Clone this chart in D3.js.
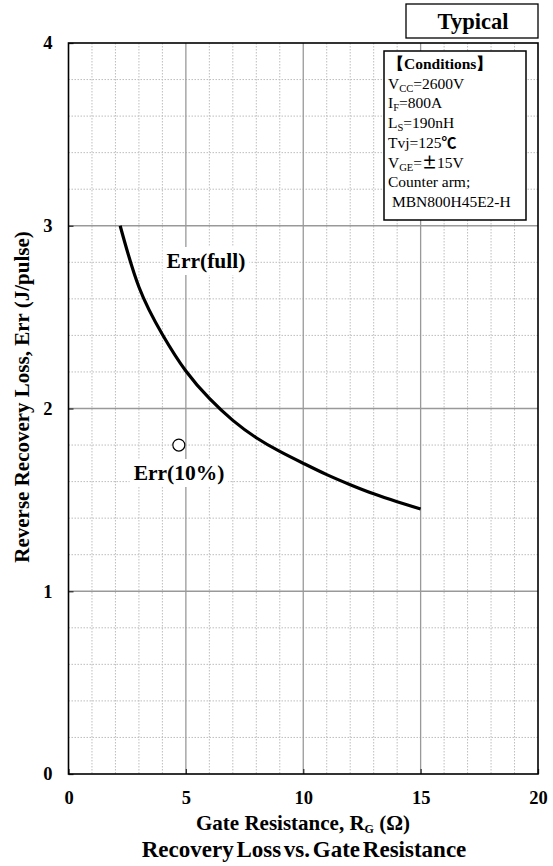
<!DOCTYPE html>
<html><head><meta charset="utf-8">
<script src="https://cdn.jsdelivr.net/npm/d3@7"></script>
<style>
html,body{margin:0;padding:0;background:#fff;}
svg{display:block;}
text{font-family:"Liberation Serif","Times New Roman",serif;}
</style></head>
<body>
<svg id="c" width="553" height="866"></svg>
<script>
// Data
const rgValues = [2.2, 3, 4, 5, 6, 7, 8, 9, 10, 11, 12, 13, 14, 15];
const errFull  = [3.00, 2.665, 2.405, 2.205, 2.055, 1.935, 1.840, 1.765, 1.700, 1.638, 1.583, 1.533, 1.490, 1.450];
const err10Point = [4.7, 1.80];
const xTicks = [0, 5, 10, 15, 20];
const yTicks = [0, 1, 2, 3, 4];
const conditionLines = [
  [{t:"【Conditions】", b:true}],
  [{t:"V"},{t:"CC",sub:true},{t:"=2600V"}],
  [{t:"I"},{t:"F",sub:true},{t:"=800A"}],
  [{t:"L"},{t:"S",sub:true},{t:"=190nH"}],
  [{t:"Tvj=125"},{t:"℃",cjk:true}],
  [{t:"V"},{t:"GE",sub:true},{t:"="},{t:"±",cjk:true},{t:"15V"}],
  [{t:"Counter arm;"}],
  [{t:"\u00a0MBN800H45E2-H"}]
];

const svg = d3.select("#c");
const L = 68.5, R = 538, T = 43, B = 774;
const x = d3.scaleLinear().domain([0, 20]).range([L, R]);
const y = d3.scaleLinear().domain([0, 4]).range([B, T]);

const g = svg.append("g");
// minor grid
const minorX = d3.range(1, 20).filter(v => v % 5 !== 0);
const minorY = d3.range(1, 20).map(v => v * 0.2).filter(v => Math.abs(v - Math.round(v)) > 1e-6);
g.selectAll(".mx").data(minorX).enter().append("line")
  .attr("x1", d => x(d)).attr("x2", d => x(d)).attr("y1", T).attr("y2", B)
  .attr("stroke", "#bdbdbd").attr("stroke-width", 1).attr("stroke-dasharray", "1.5,1.5");
g.selectAll(".my").data(minorY).enter().append("line")
  .attr("y1", d => y(d)).attr("y2", d => y(d)).attr("x1", L).attr("x2", R)
  .attr("stroke", "#bdbdbd").attr("stroke-width", 1).attr("stroke-dasharray", "1.5,1.5");
// major grid
g.selectAll(".Mx").data(xTicks.slice(1, -1)).enter().append("line")
  .attr("x1", d => x(d)).attr("x2", d => x(d)).attr("y1", T).attr("y2", B)
  .attr("stroke", "#999").attr("stroke-width", 1.3);
g.selectAll(".My").data(yTicks.slice(1, -1)).enter().append("line")
  .attr("y1", d => y(d)).attr("y2", d => y(d)).attr("x1", L).attr("x2", R)
  .attr("stroke", "#999").attr("stroke-width", 1.3);

// axes with tick labels
const xAxis = d3.axisBottom(x).tickValues(xTicks).tickFormat(d3.format("d")).tickSize(5).tickSizeOuter(0);
const xa = svg.append("g").attr("transform", `translate(0,${B})`).call(xAxis);
xa.select(".domain").remove();
xa.selectAll(".tick line").attr("y2", -5).attr("stroke", "#333").attr("stroke-width", 1.3);
xa.selectAll(".tick text").attr("y", 30).attr("dy", "0")
  .style("font-family", "Liberation Serif").style("font-weight", "bold").style("font-size", "18.5px").attr("fill", "#000");

const yAxis = d3.axisLeft(y).tickValues(yTicks).tickFormat(d3.format("d")).tickSize(5).tickSizeOuter(0);
const ya = svg.append("g").attr("transform", `translate(${L},0)`).call(yAxis);
ya.select(".domain").remove();
ya.selectAll(".tick line").attr("x2", 5).attr("stroke", "#333").attr("stroke-width", 1.3);
ya.selectAll(".tick text").attr("x", -16)
  .style("font-family", "Liberation Serif").style("font-weight", "bold").style("font-size", "18.5px").attr("fill", "#000");

// frame
svg.append("rect").attr("x", L).attr("y", T).attr("width", R - L).attr("height", B - T)
  .attr("fill", "none").attr("stroke", "#000").attr("stroke-width", 1.6);

// curve
const line = d3.line().x((d, i) => x(rgValues[i])).y(d => y(d)).curve(d3.curveNatural);
svg.append("path").attr("d", line(errFull)).attr("fill", "none").attr("stroke", "#000").attr("stroke-width", 3.2);

// labels with white background
function bgLabel(tx, cx, by, size) {
  const t = svg.append("text").attr("x", cx).attr("y", by).attr("text-anchor", "middle")
    .style("font-weight", "bold").style("font-size", size + "px").text(tx);
  const bb = t.node().getBBox();
  svg.insert("rect", () => t.node()).attr("x", bb.x - 4).attr("y", bb.y - 2)
    .attr("width", bb.width + 8).attr("height", bb.height + 4).attr("fill", "#fff");
}
bgLabel("Err(full)", 206, 268, 21.5);
bgLabel("Err(10%)", 179, 480, 21.5);

// marker
svg.append("circle").attr("cx", x(err10Point[0])).attr("cy", y(err10Point[1])).attr("r", 6)
  .attr("fill", "#fff").attr("stroke", "#000").attr("stroke-width", 1.2);

// Typical box
svg.append("rect").attr("x", 406).attr("y", 4).attr("width", 132).attr("height", 34)
  .attr("fill", "#fff").attr("stroke", "#000").attr("stroke-width", 1.3);
svg.append("text").attr("x", 473).attr("y", 29).attr("text-anchor", "middle")
  .style("font-weight", "bold").style("font-size", "22.5px").text("Typical");

// Conditions box
svg.append("rect").attr("x", 384).attr("y", 51).attr("width", 142).attr("height", 169)
  .attr("fill", "#fff").attr("stroke", "#000").attr("stroke-width", 1.5);
const ct = svg.append("g");
conditionLines.forEach((parts, i) => {
  const t = ct.append("text").attr("x", 388).attr("y", 69 + i * 19.7).style("font-size", "15.5px");
  parts.forEach((p, j) => {
    const s = t.append("tspan").text(p.t);
    if (p.b) s.style("font-weight", "bold");
    if (p.sub) s.style("font-size", "10.5px").attr("dy", 3);
    else if (j > 0 && parts[j - 1].sub) s.attr("dy", -3);
    if (p.cjk) s.style("font-family", "'Noto Sans CJK JP'").style("font-weight", "bold").style("font-size", "15px");
  });
});

// axis titles
const xt = svg.append("text").attr("x", 303).attr("y", 830).attr("text-anchor", "middle")
  .style("font-weight", "bold").style("font-size", "21px");
xt.append("tspan").text("Gate Resistance, R");
xt.append("tspan").text("G").style("font-size", "12px").attr("dy", 3);
xt.append("tspan").text(" (Ω)").attr("dy", -3);

svg.append("text").attr("transform", "translate(29,397) rotate(-90)").attr("text-anchor", "middle")
  .style("font-weight", "bold").style("font-size", "21px").text("Reverse Recovery Loss, Err (J/pulse)");

svg.append("text").attr("x", 304).attr("y", 857).attr("text-anchor", "middle")
  .style("font-weight", "bold").style("font-size", "23px").style("word-spacing", "-3px")
  .text("Recovery Loss vs. Gate Resistance");
</script>
</body></html>
